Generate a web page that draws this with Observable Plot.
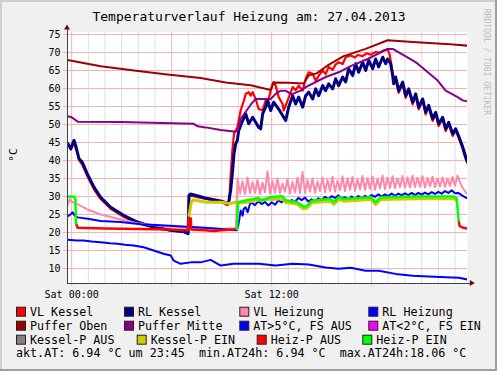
<!DOCTYPE html>
<html><head><meta charset="utf-8">
<script src="https://cdn.jsdelivr.net/npm/d3@7"></script>
<script src="https://cdn.jsdelivr.net/npm/@observablehq/plot@0.6"></script>
<style>
html,body{margin:0;padding:0;background:#f0f0f0;}
svg text{font-family:"DejaVu Sans Mono",monospace;}
</style></head><body><div id="chart"></div>
<script>
// ---------- DATA (time in hours since Sat 00:00) ----------
const xDomain = [-0.25, 23.75];
const yDomain = [5.83, 75.7];
const yTicks = [10,15,20,25,30,35,40,45,50,55,60,65,70,75];
const hourTicks = [1,2,3,4,5,7,8,9,10,11,13,14,15,16,17,19,20,21,22,23];
const majorTicks = [0,6,12,18];
const xLabelTicks = [0,12];
const xLabels = ["Sat 00:00","Sat 12:00"];

// VL Kessel
const vlKesselT = [-0.22,-0.06,0.14,0.24,0.44,0.64,0.94,1.34,1.74,2.34,3.14,3.94,4.94,5.94,6.74,6.99,7.04,7.14,8.0,9.0,9.36,9.46,9.54,9.64,9.74,9.94,10.14,10.34,10.44,10.62,10.74,10.86,11.04,11.22,11.46,11.64,11.76,11.94,12.06,12.12,12.24,12.42,12.66,12.72,12.96,13.26,13.44,13.62,13.86,14.04,14.22,14.46,14.64,14.82,15.06,15.24,15.42,15.66,15.84,16.02,16.26,16.44,16.74,17.0,17.16,17.46,17.7,17.94,18.2,18.5,18.72,18.96,19.08,19.2,19.32,19.44,19.62,19.86,20.04,20.22,20.46,20.64,20.82,21.06,21.24,21.42,21.66,21.84,22.02,22.26,22.44,22.62,22.86,23.04,23.22,23.46,23.64,23.76];
const vlKesselV = [44.8,43.0,44.8,43.6,40.2,38.8,35.6,32.0,29.3,26.6,24.3,22.6,21.3,20.6,20.2,20.1,29.8,30.2,29.4,28.4,27.6,29.0,36.0,42.7,47.4,49.2,53.9,56.7,58.5,59.0,58.0,59.0,57.1,54.3,54.0,56.7,56.0,59.4,61.3,61.8,60.8,57.6,55.7,53.9,56.7,60.4,59.5,60.8,59.4,62.7,64.5,64.1,62.2,63.5,65.0,64.0,66.0,65.2,66.7,67.3,66.8,68.7,69.2,68.6,69.3,69.0,69.8,69.4,70.1,70.0,70.6,70.8,69.5,66.0,62.8,62.6,58.8,61.2,57.4,59.5,55.6,58.1,54.2,56.7,52.8,54.9,51.0,53.0,49.6,51.6,48.2,50.2,46.8,48.4,46.3,43.2,40.4,39.1];

// RL Kessel
const rlKesselT = [-0.22,-0.06,0.14,0.24,0.44,0.64,0.94,1.34,1.74,2.34,3.14,3.94,4.94,5.94,6.74,6.99,7.04,7.14,8.0,9.0,9.36,9.44,9.54,9.64,9.74,9.84,9.94,10.02,10.14,10.26,10.44,10.62,10.86,11.04,11.22,11.34,11.46,11.64,11.76,11.94,12.12,12.42,12.72,12.84,13.02,13.26,13.44,13.62,13.86,14.04,14.22,14.46,14.64,14.82,15.06,15.24,15.42,15.66,15.84,16.02,16.26,16.44,16.62,16.86,17.04,17.22,17.46,17.64,17.82,18.06,18.24,18.42,18.66,18.84,18.96,19.14,19.26,19.32,19.44,19.62,19.86,20.04,20.22,20.46,20.64,20.82,21.06,21.24,21.42,21.66,21.84,22.02,22.26,22.44,22.62,22.86,23.04,23.22,23.46,23.64,23.76];
const rlKesselV = [44.6,43.3,45.6,44.2,40.5,39.5,36.3,32.6,29.8,27.0,24.7,22.9,21.5,20.6,20.2,19.7,30.3,30.7,29.6,28.7,28.0,28.9,31.7,36.3,41.9,44.6,45.6,48.3,49.7,51.1,53.0,50.2,52.0,50.6,49.2,48.8,53.0,54.8,56.7,53.9,56.2,54.3,52.0,51.1,54.8,58.0,55.7,57.6,54.8,58.0,59.0,57.1,59.9,58.0,60.8,59.4,61.3,59.9,62.7,60.8,63.2,61.8,65.5,63.6,66.9,64.5,67.3,65.0,67.8,65.5,68.2,66.0,68.7,66.9,68.2,66.9,63.6,61.3,63.2,59.4,61.8,58.0,59.9,56.2,58.5,54.8,57.1,53.4,55.3,51.6,53.4,50.2,52.0,48.8,50.6,47.4,48.8,46.8,43.8,41.0,39.6];

// VL Heizung: morning points, then samples every 0.15 h from 9.95 h
const vlHeizMorningT = [-0.25,-0.12,0.0,0.36,0.94,1.74,2.94,3.94,5.34,6.96,7.5,9.0,9.85];
const vlHeizMorningV = [27.5,29.3,28.6,27.8,26.4,25.0,23.6,22.6,21.8,21.4,21.2,21.0,21.2];
const vlHeizStart = 9.95, vlHeizStep = 0.15;
const vlHeizV = [35.0,30.8,34.2,30.6,35.3,30.9,34.0,31.0,34.6,30.7,33.8,31.2,37.0,30.8,34.3,31.0,35.0,30.9,33.6,31.3,34.8,30.8,34.0,31.1,35.2,30.9,36.8,31.0,34.5,31.4,35.0,31.0,34.2,31.5,35.3,31.2,34.6,31.6,35.5,31.3,34.4,31.8,35.6,31.5,35.0,31.9,35.4,31.6,34.8,32.0,35.7,31.8,35.1,32.1,35.5,31.9,34.9,32.2,35.8,32.0,35.2,32.4,35.6,32.3,35.0,32.6,35.7,32.4,35.3,32.5,35.8,32.6,35.2,32.7,35.6,32.5,35.1,32.8,35.5,32.6,34.9,32.8,35.3,32.7,35.0,32.9,35.4,33.0,35.8,34.0,32.5,31.4,30.7];

// RL Heizung: morning points, then samples every 0.2 h from 10.8 h
const rlHeizMorningT = [-0.25,-0.1,0.06,0.2,0.36,0.96,1.74,2.94,4.14,5.34,6.96,8.0,9.0,9.6,9.9,10.0,10.14,10.26,10.32,10.44,10.56,10.7];
const rlHeizMorningV = [24.5,24.9,25.6,24.6,24.2,23.8,23.2,22.9,22.3,22.0,21.6,21.3,21.0,20.7,20.6,22.0,26.1,24.7,26.6,27.0,25.6,28.0];
const rlHeizStart = 10.8, rlHeizStep = 0.2;
const rlHeizV = [28.3,27.6,28.7,27.9,28.5,27.5,28.4,27.7,28.9,28.4,29.2,28.3,29.0,28.5,29.6,29.0,29.7,28.6,29.2,28.6,29.5,29.0,29.9,29.3,30.1,29.6,30.3,29.5,29.8,29.2,30.0,29.4,30.1,29.5,30.2,29.7,30.4,29.9,30.6,30.0,30.6,30.1,30.8,30.2,30.8,30.3,30.9,30.4,31.0,30.4,31.0,30.5,31.1,30.6,31.2,30.7,31.3,30.8,31.5,31.0,31.7,30.9,31.0,30.4,29.8,29.4];

// Puffer Oben
const pufferObenT = [-0.25,1.74,3.74,5.74,7.74,9.24,10.74,11.94,12.12,13.0,13.92,14.22,14.7,15.36,16.32,17.64,18.96,20.46,22.44,23.76];
const pufferObenV = [67.9,66.2,65.0,63.9,62.9,61.7,60.9,59.6,61.7,61.6,61.4,63.6,64.2,66.4,69.0,71.0,73.4,72.9,72.4,71.9];

// Puffer Mitte
const pufferMitteT = [-0.24,0.0,0.36,2.94,7.32,7.56,8.04,8.94,9.72,9.96,10.14,10.74,11.04,11.64,11.94,12.24,12.54,12.84,13.14,13.26,13.74,14.04,15.24,16.02,16.74,17.76,18.96,19.26,20.46,20.76,21.96,22.44,23.16,23.46,23.76];
const pufferMitteV = [52.3,52.0,50.8,50.7,50.2,49.5,49.2,48.5,48.05,48.2,51.6,55.5,57.1,57.1,57.1,58.5,59.4,59.4,58.5,58.5,59.4,60.4,63.2,64.5,66.2,68.2,71.0,71.0,67.8,66.9,62.2,59.4,57.6,56.7,56.4];

// Aussentemperatur (AT>5°C, FS AUS)
const atT = [-0.25,0.3,0.7,1.2,1.74,2.3,2.76,3.2,3.72,4.32,4.92,5.52,5.94,6.12,6.54,7.14,7.74,8.34,8.94,9.72,10.26,11.22,12.24,13.26,14.22,15.24,16.02,16.74,17.04,17.64,18.42,19.44,20.46,21.42,22.44,23.22,23.76];
const atV = [17.97,17.8,17.8,17.5,17.3,17.0,16.9,16.6,16.4,15.9,15.0,14.1,13.6,12.2,11.3,11.7,11.7,12.4,10.8,11.3,11.3,11.3,10.8,11.3,11.1,10.3,9.9,10.2,9.9,9.4,9.4,8.5,8.0,7.8,7.6,7.4,6.94];

// Kessel-P EIN
const kesselEinT = [7.04,7.18,7.3,8.1,9.0,9.54,9.8,9.96,10.44,11.22,12.66,12.84,13.5,13.9,14.1,14.4,14.76,15.54,15.72,16.02,16.32,17.94,18.24,18.54,20.76,22.92,23.1];
const kesselEinV = [24.7,28.4,29.0,28.4,28.4,28.0,28.4,28.2,28.3,29.0,29.4,28.3,27.9,26.6,26.7,28.2,28.4,28.7,27.8,29.2,28.7,29.2,27.8,29.2,29.4,29.4,29.0];

// Heiz-P EIN / AUS segments
const heizEin1T = [-0.25,0.15,0.22,0.26];
const heizEin1V = [30.0,29.9,29.5,22.5];
const heizAus1T = [0.26,0.36,2.0,4.0,6.0,6.98,7.0,7.15,7.18,8.0,8.5,9.0,9.6,9.92];
const heizAus1V = [22.5,21.3,21.1,21.0,20.8,20.6,23.9,23.9,20.8,20.6,20.4,20.6,20.8,21.0];
const heizEin2T = [9.92,9.98,10.44,11.22,11.34,11.94,12.54,12.66,12.84,13.5,13.9,14.1,14.4,14.76,15.54,15.72,16.02,16.32,17.94,18.24,18.54,20.76,22.92,23.1,23.22];
const heizEin2V = [21.0,28.4,28.9,29.6,28.9,29.8,30.1,30.0,28.9,28.5,27.2,27.3,28.8,29.0,29.3,28.4,29.8,29.3,29.8,28.4,29.8,30.0,30.0,29.5,23.3];
const heizAus2T = [23.22,23.28,23.5,23.76];
const heizAus2V = [23.3,21.8,21.3,21.1];

// Legend
const legendRows = [
  [["VL Kessel","#FF0000"],["RL Kessel","#000080"],["VL Heizung","#FF88AA"],["RL Heizung","#0000FF"]],
  [["Puffer Oben","#A00000"],["Puffer Mitte","#880088"],["AT>5°C, FS AUS","#0000FF"],["AT<2°C, FS EIN","#FF00FF"]],
  [["Kessel-P AUS","#808080"],["Kessel-P EIN","#CCCC00"],["Heiz-P AUS","#FF0000"],["Heiz-P EIN","#00FF00"]]
];
const legendCols = [[16,124,239.3,368.3],[16,124,239.3,368.3],[16,136.7,256.7,362.3]];
const commentLine = "akt.AT: 6.94 °C um 23:45  min.AT24h: 6.94 °C  max.AT24h:18.06 °C";
const title = "Temperaturverlauf Heizung am: 27.04.2013";
const watermark = "RRDTOOL / TOBI OETIKER";

// ---------- BUILD ----------
const pairs = (T, V) => T.map((t, i) => ({t, v: V[i]}));
const stepPairs = (start, step, V) => V.map((v, i) => ({t: start + i * step, v}));

const vlKessel = pairs(vlKesselT, vlKesselV);
const rlKessel = pairs(rlKesselT, rlKesselV);
const vlHeiz = pairs(vlHeizMorningT, vlHeizMorningV).concat(stepPairs(vlHeizStart, vlHeizStep, vlHeizV));
const rlHeiz = pairs(rlHeizMorningT, rlHeizMorningV).concat(stepPairs(rlHeizStart, rlHeizStep, rlHeizV));
const pufferOben = pairs(pufferObenT, pufferObenV);
const pufferMitte = pairs(pufferMitteT, pufferMitteV);
const at = pairs(atT, atV);
const kesselEin = pairs(kesselEinT, kesselEinV);
const heizEin1 = pairs(heizEin1T, heizEin1V), heizAus1 = pairs(heizAus1T, heizAus1V);
const heizEin2 = pairs(heizEin2T, heizEin2V), heizAus2 = pairs(heizAus2T, heizAus2V);

const ln = (data, stroke, w) => Plot.line(data, {x: "t", y: "v", stroke, strokeWidth: w, clip: true, strokeLinejoin: "round"});

const chart = Plot.plot({
  width: 497, height: 371,
  marginLeft: 67, marginRight: 30, marginTop: 31.5, marginBottom: 88,
  style: {background: "#f0f0f0", fontFamily: "DejaVu Sans Mono", fontSize: "10px", color: "#000", overflow: "visible"},
  x: {domain: xDomain, axis: null},
  y: {domain: yDomain, axis: null},
  marks: [
    Plot.frame({fill: "#ffffff", stroke: "none"}),
    Plot.ruleX(hourTicks, {y1: yDomain[0], y2: yDomain[1], stroke: "#dedede"}),
    Plot.ruleX(majorTicks, {y1: 5.0, y2: yDomain[1], stroke: "#f2b3b3"}),
    Plot.ruleY(yTicks, {x1: -0.49, x2: xDomain[1], stroke: "#f2b3b3"}),
    Plot.text(yTicks, {x: () => xDomain[0], y: d => d, dx: -7, textAnchor: "end", text: d => String(d), fill: "#000", fontSize: 10}),
    Plot.text(xLabelTicks, {x: d => d, y: () => yDomain[0], dy: 11, text: (d, i) => xLabels[i], fill: "#000", fontSize: 10}),
    ln(vlKessel, "#FF0000", 2.2),
    ln(rlKessel, "#000080", 3),
    ln(vlHeiz, "#FF88AA", 2),
    ln(rlHeiz, "#0000FF", 2),
    ln(pufferOben, "#A00000", 2),
    ln(pufferMitte, "#880088", 2),
    ln(at, "#0000FF", 2),
    ln(kesselEin, "#CCCC00", 3),
    ln(heizAus1, "#FF0000", 2.5),
    ln(heizAus2, "#FF0000", 2.5),
    ln(heizEin1, "#00FF00", 2.5),
    ln(heizEin2, "#00FF00", 2.5),
    Plot.ruleX([xDomain[0]], {y1: yDomain[0], y2: 76.4, stroke: "#404040"}),
    Plot.ruleY([yDomain[0]], {x1: xDomain[0], x2: 23.95, stroke: "#404040"})
  ]
});
document.getElementById("chart").appendChild(chart);

const svg = d3.select(chart);
const sx = chart.scale("x"), sy = chart.scale("y");
const ax = sx.apply(xDomain[0]), ay = sy.apply(yDomain[0]);
const topY = sy.apply(76.4), rightX = sx.apply(23.95);
// arrows
svg.append("path").attr("d", `M${ax-3},${topY+0.5}L${ax+3},${topY+0.5}L${ax},${topY-4.5}Z`).attr("fill", "#7f0000");
svg.append("path").attr("d", `M${rightX-0.5},${ay-3}L${rightX-0.5},${ay+3}L${rightX+4.5},${ay}Z`).attr("fill", "#7f0000");
// shade border
svg.append("rect").attr("x", 0).attr("y", 0).attr("width", 497).attr("height", 2).attr("fill", "#cfcfcf");
svg.append("rect").attr("x", 0).attr("y", 0).attr("width", 2).attr("height", 371).attr("fill", "#cfcfcf");
svg.append("rect").attr("x", 0).attr("y", 369).attr("width", 497).attr("height", 2).attr("fill", "#9e9e9e");
svg.append("rect").attr("x", 495).attr("y", 0).attr("width", 2).attr("height", 371).attr("fill", "#9e9e9e");
// title
svg.append("text").attr("x", 249).attr("y", 21).attr("text-anchor", "middle").attr("font-size", 13).attr("fill", "#000").text(title);
// watermark
svg.append("text").attr("transform", "translate(484,62) rotate(90)").attr("text-anchor", "middle").attr("font-size", 8).attr("fill", "#bdbdbd").text(watermark);
// y label
svg.append("text").attr("transform", "translate(17,155) rotate(-90)").attr("text-anchor", "middle").attr("font-size", 11).attr("fill", "#000").text("°C");
// legend
const rowBase = [315.7, 329.7, 343.7];
legendRows.forEach((row, r) => {
  row.forEach(([label, color], c) => {
    const bx = legendCols[r][c];
    svg.append("rect").attr("x", bx + 0.5).attr("y", rowBase[r] - 8.5).attr("width", 9).attr("height", 9)
      .attr("fill", color).attr("stroke", "#222").attr("stroke-width", 1);
    svg.append("text").attr("x", bx + 14).attr("y", rowBase[r]).attr("text-anchor", "start")
      .attr("font-size", 11.7).attr("fill", "#000").text(label);
  });
});
svg.append("text").attr("x", 16).attr("y", 356.7).attr("text-anchor", "start").attr("font-size", 11.7).attr("fill", "#000")
  .text(commentLine.replace(/ /g, "\u00A0"));
</script></body></html>
